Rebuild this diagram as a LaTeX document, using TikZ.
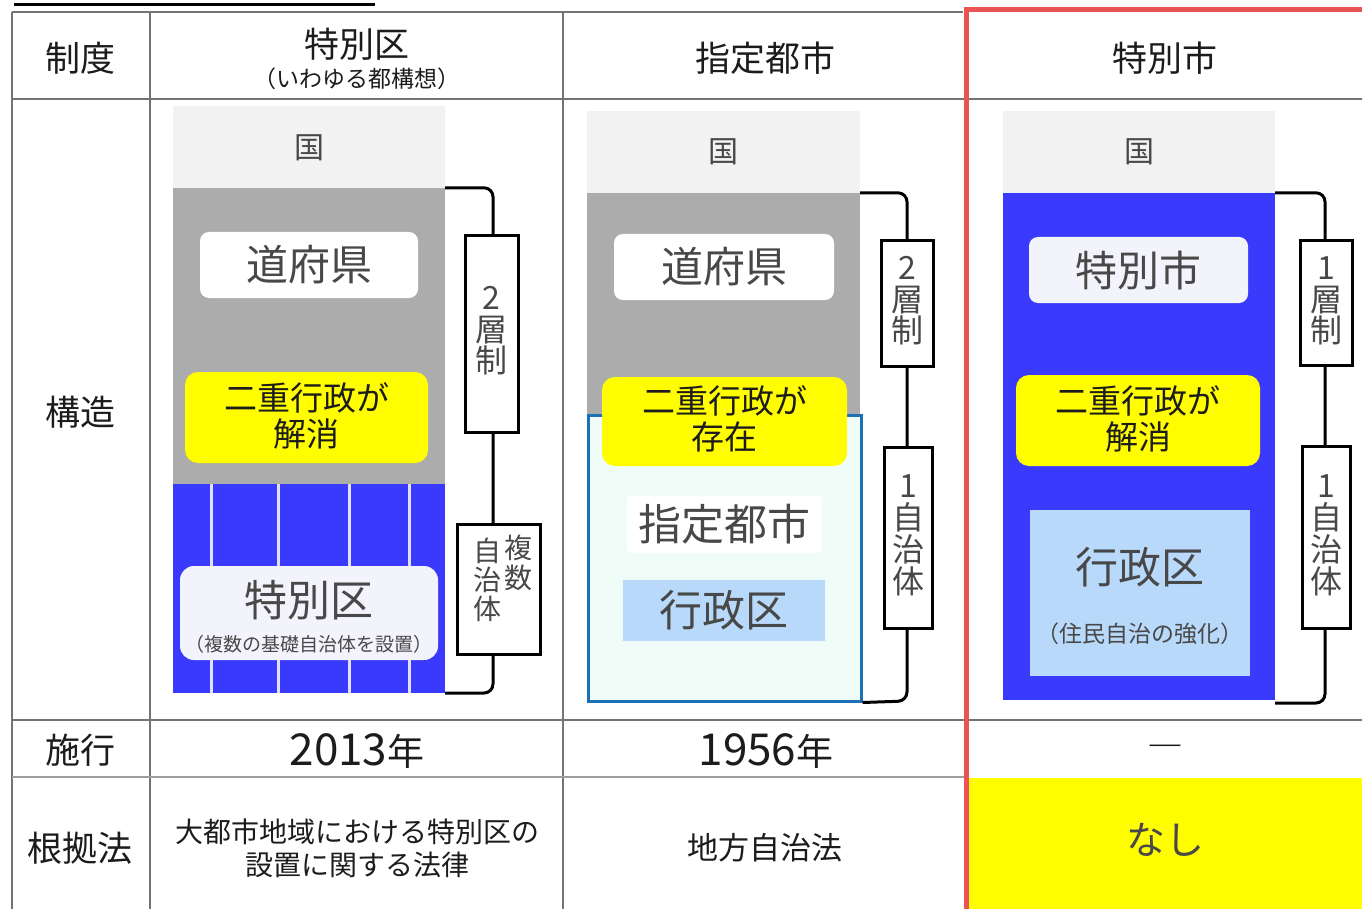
\documentclass[tikz,border=0pt]{standalone}
\usepackage{fontspec}
\setmainfont{Noto Sans CJK JP}
\newcommand\fsz[1]{\fontsize{#1}{#1}\selectfont}
\definecolor{kuniC}{RGB}{242,242,242}
\definecolor{grayC}{RGB}{172,172,172}
\definecolor{blueC}{RGB}{58,58,252}
\definecolor{yelC}{RGB}{255,253,0}
\definecolor{paleC}{RGB}{184,217,250}
\definecolor{cyanC}{RGB}{240,252,248}
\definecolor{cyanB}{RGB}{28,112,182}
\definecolor{redC}{RGB}{234,84,84}
\definecolor{wbC}{RGB}{243,243,252}
\definecolor{txtC}{RGB}{72,72,72}
\definecolor{hdC}{RGB}{28,28,28}
\definecolor{lineC}{RGB}{115,115,115}
\tikzset{
  hd/.style={text=hdC, inner sep=0pt},
  band/.style={inner sep=0pt, draw=none},
  kuni/.style={band, fill=kuniC, text=txtC, font=\fsz{30}, minimum width=272, minimum height=82},
  pill/.style={inner sep=0pt, rounded corners=9, text=txtC, font=\fsz{42}},
  yel/.style={inner sep=0pt, rounded corners=13, fill=yelC, text=hdC, font=\fsz{33}, align=center},
  vlab/.style={draw=black, line width=3, fill=white, inner sep=0pt, text=txtC, align=center},
  vtxt/.style={text=txtC, align=center, inner sep=0pt, font=\fontsize{32}{31.5}\selectfont},
  brk/.style={draw=black, line width=3, rounded corners=9},
  tline/.style={draw=lineC, line width=1.3},
}
\begin{document}
\begin{tikzpicture}[x=1pt, y=-1pt]
\useasboundingbox (0,0) rectangle (1362,909);
\clip (0,0) rectangle (1362,909);
\fill[white] (0,0) rectangle (1362,909);
% title underline
\draw[line width=3] (14,5) -- (375,5);
% yellow cell
\fill[yelC] (966,778) rectangle (1362,909);
% table lines
\draw[tline] (12,12) -- (963,12);
\draw[tline] (12,12) -- (12,909);
\draw[tline] (150,12) -- (150,909);
\draw[tline] (563,12) -- (563,909);
\draw[tline] (12,99) -- (1362,99);
\draw[tline] (12,720) -- (1362,720);
\draw[draw=lineC!70, line width=2.6] (12,777) -- (966,777);
\draw[draw=redC, line width=5] (966,909) -- (966,10) -- (1370,10);

% headers
\node[hd, font=\fsz{35}] (h0) at (80,58) {制度};
\node[hd, font=\fsz{35}] (h1) at (357,44) {特別区};
\node[hd, font=\fsz{23}] (h1b) at (357,79) {（いわゆる都構想）};
\node[hd, font=\fsz{35}] (h2) at (765,58) {指定都市};
\node[hd, font=\fsz{35}] (h3) at (1165,58) {特別市};
\node[hd, font=\fsz{35}] (r1) at (80,412) {構造};
\node[hd, font=\fsz{35}] (r2) at (80,750) {施行};
\node[hd, font=\fsz{35}] (r3) at (80,848) {根拠法};

% ===== column 2 : 特別区 =====
\node[kuni] (kuni2) at (309,147.5) {国};
\node[band, fill=grayC, minimum width=272, minimum height=296] (gray2) at (309,336) {};
\node[band, fill=blueC, minimum width=272, minimum height=209] (blue2) at (309,588.5) {};
\foreach \xx in {211,278,349,409}
  \draw[draw=white!85!blueC, line width=3] (\xx,484) -- (\xx,693);
\node[pill, fill=white, minimum width=218, minimum height=66] (ken2) at (309,265) {道府県};
\node[yel, minimum width=243, minimum height=91] (yel2) at (306.5,417.5) {};
\node[text=hdC, font=\fsz{33}, inner sep=0pt] (yel2a) at (306.5,398) {二重行政が};
\node[text=hdC, font=\fsz{33}, inner sep=0pt] (yel2b) at (306.5,434) {解消};
\node[pill, fill=wbC, rounded corners=14, minimum width=258, minimum height=94] (tok2) at (309,613) {};
\node[text=txtC, font=\fsz{43}, inner sep=0pt] (tok2a) at (309,600) {特別区};
\node[text=txtC, font=\fsz{19}, inner sep=0pt] (tok2b) at (309,644) {（複数の基礎自治体を設置）};
\coordinate (b2) at (493,693);
\draw[brk] (gray2.north east) -| (b2) -- (blue2.south east);
\node[vlab, minimum width=53, minimum height=196] (sb2) at (491.5,334) {};
\node[vtxt] (sb2t) at (491.5,331) {2\\層\\制};
\node[vlab, minimum width=83, minimum height=130] (fk2) at (498.5,589) {};
\node[vtxt, font=\fontsize{28}{30}\selectfont] (fk2r) at (518,563) {複\\数};
\node[vtxt, font=\fontsize{28}{29}\selectfont] (fk2l) at (487,580) {自\\治\\体};

% ===== column 3 : 指定都市 =====
\node[kuni, minimum width=273] (kuni3) at (723.5,152) {国};
\node[band, fill=grayC, minimum width=273, minimum height=222] (gray3) at (723.5,304) {};
\node[band, draw=cyanB, line width=3, fill=cyanC, minimum width=273, minimum height=286] (cyan3) at (724.5,558) {};
\node[pill, fill=white, minimum width=220, minimum height=66] (ken3) at (724,267) {道府県};
\node[yel, minimum width=245, minimum height=89] (yel3) at (724.5,421.5) {};
\node[text=hdC, font=\fsz{33}, inner sep=0pt] (yel3a) at (724.5,401) {二重行政が};
\node[text=hdC, font=\fsz{33}, inner sep=0pt] (yel3b) at (724.5,437) {存在};
\node[pill, fill=white, rounded corners=4, minimum width=195, minimum height=57, font=\fsz{43}] (shi3) at (724.5,524.5) {指定都市};
\node[band, fill=paleC, text=txtC, font=\fsz{43}, minimum width=202, minimum height=61] (gyo3) at (724,610.5) {行政区};
\coordinate (b3) at (907,701);
\draw[brk] (gray3.north east) -| (b3) -- (cyan3.south east);
\node[vlab, minimum width=52, minimum height=125] (sb3) at (907,303.5) {};
\node[vtxt] (sb3t) at (907,301) {2\\層\\制};
\node[vlab, minimum width=48, minimum height=181] (one3) at (908,537.5) {};
\node[vtxt, font=\fontsize{32}{32}\selectfont] (one3t) at (908,535) {1\\自\\治\\体};

% ===== column 4 : 特別市 =====
\node[kuni] (kuni4) at (1139,152) {国};
\node[band, fill=blueC, minimum width=272, minimum height=507] (blue4) at (1139,446.5) {};
\node[pill, fill=wbC, minimum width=219, minimum height=66] (tok4) at (1138.5,270) {特別市};
\node[yel, minimum width=244, minimum height=91] (yel4) at (1138,420.5) {};
\node[text=hdC, font=\fsz{33}, inner sep=0pt] (yel4a) at (1138,401) {二重行政が};
\node[text=hdC, font=\fsz{33}, inner sep=0pt] (yel4b) at (1138,437) {解消};
\node[band, fill=paleC, minimum width=220, minimum height=166] (gyo4) at (1140,593) {};
\node[text=txtC, font=\fsz{43}, inner sep=0pt] (gyo4a) at (1140,567) {行政区};
\node[text=txtC, font=\fsz{23}, inner sep=0pt] (gyo4b) at (1140,634) {（住民自治の強化）};
\coordinate (b4) at (1325,703);
\draw[brk] (blue4.north east) -| (b4) -- (blue4.south east |- b4);
\node[vlab, minimum width=52, minimum height=124] (sb4) at (1326,303) {};
\node[vtxt] (sb4t) at (1326,301) {1\\層\\制};
\node[vlab, minimum width=48, minimum height=182] (one4) at (1326,537) {};
\node[vtxt, font=\fontsize{32}{32}\selectfont] (one4t) at (1326,535) {1\\自\\治\\体};

% ===== rows 施行 / 根拠法 =====
\node[hd] (y2) at (357,751) {\fsz{44}2013\fsz{37}年};
\node[hd] (y3) at (766,751) {\fsz{44}1956\fsz{37}年};
\node[hd, font=\fsz{36}] (y4) at (1165,752) {―};
\node[hd, font=\fsz{28}] (l2a) at (357,832) {大都市地域における特別区の};
\node[hd, font=\fsz{28}] (l2b) at (357,865) {設置に関する法律};
\node[hd, font=\fsz{31}] (l3) at (765,848) {地方自治法};
\node[text=txtC, font=\fsz{39}, inner sep=0pt] (l4) at (1165,840) {なし};
\end{tikzpicture}
\end{document}
